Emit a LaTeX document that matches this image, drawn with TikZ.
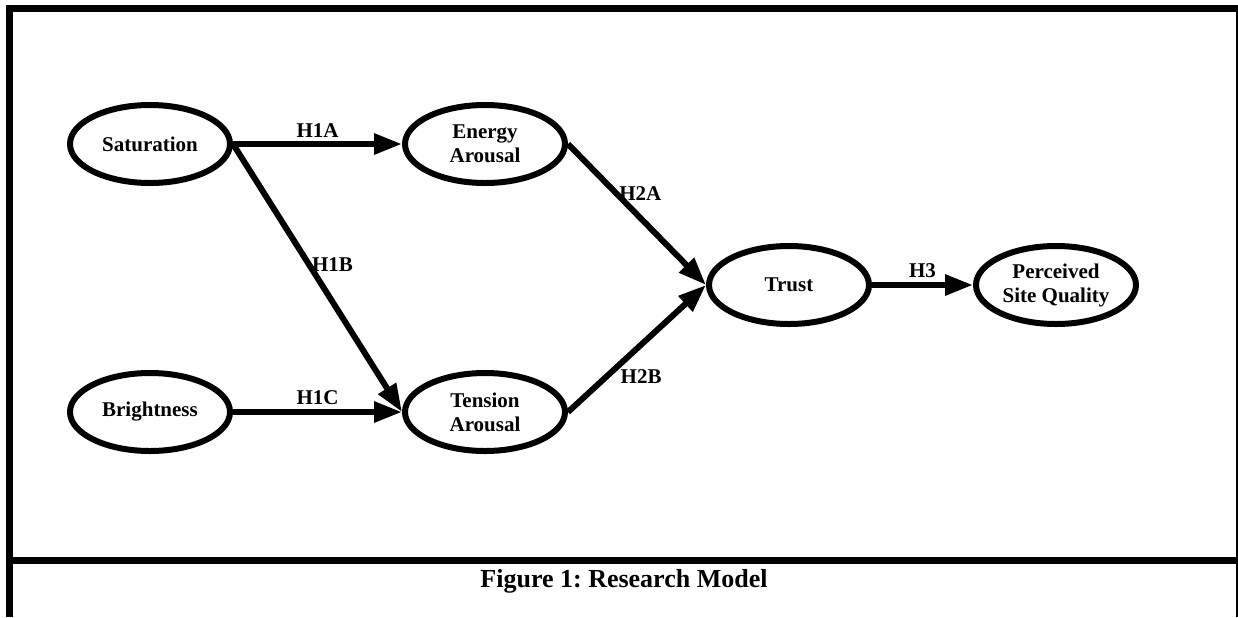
\documentclass[tikz,border=0pt]{standalone}
\usepackage{fontspec}
\setmainfont{Liberation Serif}
\usetikzlibrary{arrows.meta,shapes.geometric}

\begin{document}
\begin{tikzpicture}[x=0.5pt,y=-0.5pt]
      \tikzstyle{construct}=[ellipse,draw,line width=3pt,inner sep=0pt,minimum width=80pt,minimum height=39pt,align=center,font=\fontsize{10.5}{12}\selectfont\bfseries]
      \tikzstyle{hyp}=[line width=3pt,-{Triangle[length=14pt,width=10pt]}]
      \tikzstyle{hlabel}=[inner sep=2pt,font=\fontsize{10.5}{12}\selectfont\bfseries]
      \useasboundingbox (0,0) rectangle (1238,617);
      % frame and caption
      \draw[line width=3.5pt] (9.5,617) -- (9.5,8.5) -- (1239.5,8.5) -- (1239.5,617);
      \draw[line width=3.5pt] (6,560.5) -- (1238,560.5);
      \node[font=\fontsize{13}{15}\selectfont\bfseries\frenchspacing] (cap) at (624,581) {Figure 1: Research Model};
      % constructs
      \node[construct] at (150,144) (sat) {Saturation};
      \node[construct] at (150,412) (bri) {Brightness};
      \node[construct] at (485,144) (ene) {Energy\\Arousal};
      \node[construct] at (485,412) (ten) {Tension\\Arousal};
      \node[construct] at (789,285) (tru) {Trust};
      \node[construct] at (1056,285) (psq) {Perceived\\Site Quality};
      % hypotheses
      \draw (sat) edge[hyp] node[hlabel,above]{H1A} (ene);
      \draw (sat.east) edge[hyp] node[hlabel,pos=0.45,anchor=west,inner sep=0pt]{H1B} (ten.west);
      \draw (bri) edge[hyp] node[hlabel,above]{H1C} (ten);
      \draw (ene.east) edge[hyp] node[hlabel,pos=0.35,anchor=west,inner sep=0pt]{H2A} (tru.west);
      \draw (ten.east) edge[hyp] node[hlabel,pos=0.36,anchor=north west,inner sep=0pt]{H2B} (tru.west);
      \draw (tru) edge[hyp] node[hlabel,above]{H3} (psq);
    \end{tikzpicture}
\end{document}
